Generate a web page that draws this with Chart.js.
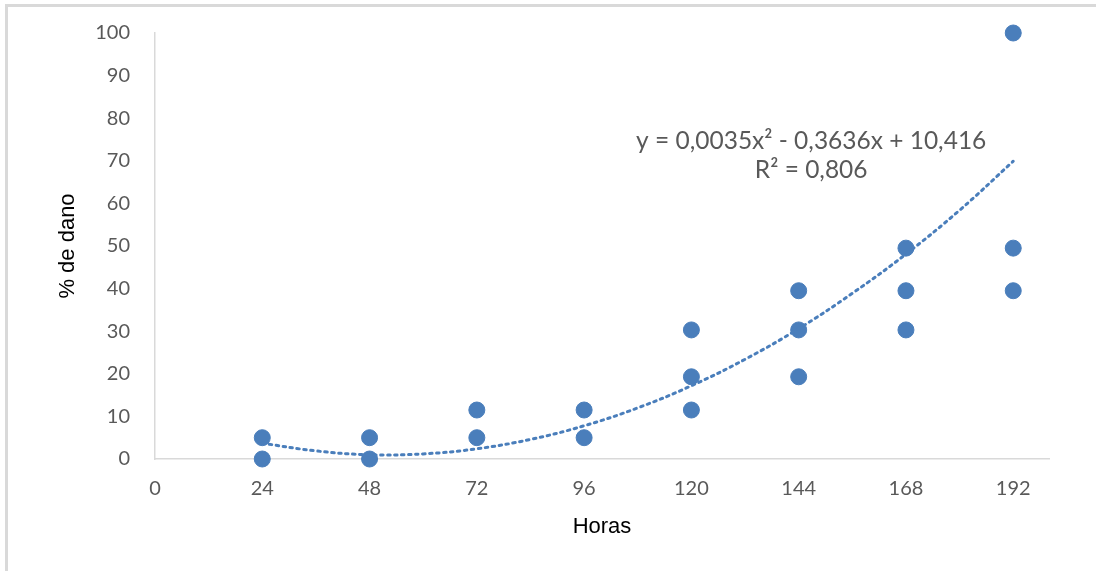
<!DOCTYPE html>
<html>
<head>
<meta charset="utf-8">
<script src="https://cdn.jsdelivr.net/npm/chart.js@4"></script>
<style>
    html, body { margin: 0; padding: 0; background: #fff; }
    #frame {
        position: absolute; left: 5px; top: 4px; width: 1091px; height: 567px;
        border-top: 3px solid #d9d9d9; border-left: 3px solid #d9d9d9;
    }
    #wrap { position: absolute; left: 0; top: 0; width: 1096px; height: 571px; }
</style>
</head>
<body>
<div id="frame"></div>
<div id="wrap"><canvas id="danoChart" width="1096" height="571"></canvas></div>
<script>
// observed values
const hours = [24, 24, 48, 48, 72, 72, 96, 96, 120, 120, 120, 144, 144, 144, 168, 168, 168, 192, 192, 192];
const dano = [5, 0, 5, 0, 11.5, 5, 11.5, 5, 30.3, 19.3, 11.5, 39.5, 30.3, 19.3, 49.5, 39.5, 30.3, 100, 49.5, 39.5];

// polynomial trendline
const trendHours = [24, 36, 48, 60, 72, 84, 96, 108, 120, 132, 144, 156, 168, 180, 192];
const trendDano = [3.7, 1.9, 1.0, 1.2, 2.4, 4.6, 7.8, 12.0, 17.2, 23.4, 30.6, 38.9, 48.1, 58.4, 69.9];

const xTicks = [0, 24, 48, 72, 96, 120, 144, 168, 192];
const yTicks = [0, 10, 20, 30, 40, 50, 60, 70, 80, 90, 100];

const xTitle = 'Horas';
const yTitle = '% de dano';
const equationText = ['y = 0,0035x² - 0,3636x + 10,416', 'R² = 0,806'];

const blue = '#4a7ebb';
const grey = '#595959';
const plotTop = 33;

// axis titles and trendline label, drawn where the reference has them
const labelsPlugin = {
    id: 'labels',
    afterDraw(chart) {
        const ctx = chart.ctx;
        const area = chart.chartArea;
        ctx.save();
        ctx.textAlign = 'center';
        ctx.textBaseline = 'middle';

        ctx.fillStyle = '#000';
        ctx.font = '22px "Liberation Sans"';
        ctx.fillText(xTitle, (area.left + area.right) / 2, 527);

        ctx.save();
        ctx.translate(68, (area.top + area.bottom) / 2);
        ctx.rotate(-Math.PI / 2);
        ctx.fillText(yTitle, 0, 0);
        ctx.restore();

        const x = chart.scales.x.getPixelForValue(146.8);
        const y = chart.scales.y.getPixelForValue(74.6);
        ctx.fillStyle = grey;
        ctx.font = '24.5px Lato';
        ctx.fillText(equationText[0], x, y);
        ctx.fillText(equationText[1], x, y + 29);
        ctx.restore();
    }
};

const ctx = document.getElementById('danoChart').getContext('2d');

const myChart = new Chart(ctx, {
    type: 'scatter',
    data: {
        datasets: [
            {
                label: 'Tendência',
                data: trendHours.map((h, i) => ({ x: h, y: trendDano[i] })),
                showLine: true,
                borderColor: blue,
                borderWidth: 3,
                borderDash: [2.5, 4.5],
                borderCapStyle: 'round',
                pointRadius: 0,
                tension: 0.4,
                clip: false,
            },
            {
                label: '% de dano',
                data: hours.map((h, i) => ({ x: h, y: dano[i] })),
                backgroundColor: blue,
                borderColor: blue,
                pointRadius: 8,
                clip: false,
            },
        ],
    },
    options: {
        responsive: false,
        animation: false,
        layout: {
            autoPadding: false,
            padding: { left: 0, right: 47, top: plotTop, bottom: 0 },
        },
        plugins: {
            legend: { display: false },
            tooltip: { enabled: false },
        },
        scales: {
            x: {
                type: 'linear',
                min: 0,
                max: 200,
                afterBuildTicks: (scale) => { scale.ticks = xTicks.map(v => ({ value: v })); },
                afterFit: (scale) => {
                    scale.height = 571 - 459;
                    scale.paddingLeft = 0;
                    scale.paddingRight = 0;
                },
                grid: { display: false, drawTicks: false },
                border: { display: true, color: '#d9d9d9', width: 1.5 },
                ticks: { color: grey, font: { family: 'Lato', size: 20 }, padding: 18 },
            },
            y: {
                min: 0,
                max: 100,
                afterBuildTicks: (scale) => { scale.ticks = yTicks.map(v => ({ value: v })); },
                afterFit: (scale) => {
                    scale.width = 155;
                    scale.paddingTop = 0;
                    scale.paddingBottom = 0;
                },
                grid: { display: false, drawTicks: false },
                border: { display: true, color: '#d9d9d9', width: 1.5 },
                ticks: { color: grey, font: { family: 'Lato', size: 20 }, padding: 25 },
            },
        },
    },
    plugins: [labelsPlugin],
});

// if chart.js still leaves extra room above the plot, pull the top back to 33
const extraTop = myChart.chartArea.top - plotTop;
if (extraTop > 0) {
    myChart.options.layout.padding.top = Math.max(0, plotTop - extraTop);
    myChart.update();
}
</script>
</body>
</html>
